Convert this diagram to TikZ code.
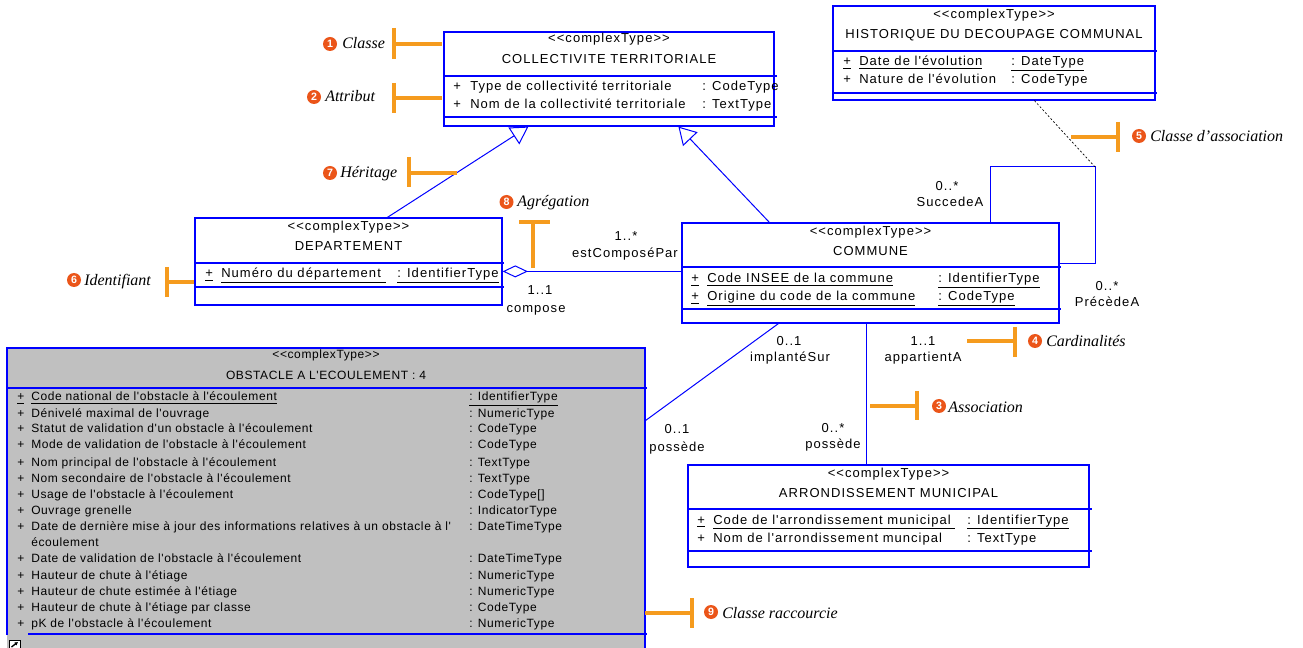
\documentclass[tikz,border=0pt]{standalone}
\usepackage{fontspec}
\newfontfamily\umlfont{Liberation Sans}[LetterSpace=8,Ligatures=TeXOff]
\newfontfamily\obsfont{Liberation Sans}[LetterSpace=5,Ligatures=TeXOff]
\newfontfamily\numfont{Liberation Sans}
\newfontfamily\annfont{Liberation Serif}
\usetikzlibrary{arrows.meta,fit,calc}
\definecolor{umlblue}{RGB}{0,0,255}
\definecolor{annorange}{RGB}{245,155,30}
\definecolor{numred}{RGB}{235,85,25}
\definecolor{obsgray}{RGB}{192,192,192}
\tikzset{
  umlbox/.style={draw=umlblue, line width=0.9pt, inner sep=0pt, fill=white},
  sepline/.style={draw=umlblue, line width=0.9pt},
  umltxt/.style={font=\umlfont\fontsize{9.75pt}{12pt}\selectfont, inner sep=0pt, anchor=base},
  umlw/.style={umltxt, anchor=base west},
  obstxt/.style={font=\obsfont\fontsize{9pt}{11pt}\selectfont, inner sep=0pt, anchor=base west},
  assoc/.style={draw=umlblue, line width=0.75pt},
  inherit/.style={assoc, -{Triangle[open, length=13pt, width=15pt]}},
  aggreg/.style={assoc, {Diamond[open, length=19pt, width=9pt]}-},
  assocclass/.style={draw=black, line width=0.5pt, dash pattern=on 1.5pt off 1.5pt},
  annline/.style={draw=annorange, line width=2.3pt},
  numcirc/.style={circle, fill=numred, text=white, inner sep=0pt, minimum size=10.5pt,
     font=\numfont\bfseries\fontsize{8pt}{8pt}\selectfont},
  anntxt/.style={font=\annfont\itshape\fontsize{12pt}{14pt}\selectfont, inner sep=0pt, anchor=base west},
}
\begin{document}
\begin{tikzpicture}[x=0.75pt,y=-0.75pt]
\useasboundingbox (0,0) rectangle (1303,648);
\fill[white] (0,0) rectangle (1303,648);

% ---------- COLLECTIVITE TERRITORIALE
\node[umlbox, fit={(444,32) (774,126)}] (coll) {};
\draw[sepline] (444,76) -- (777,76);
\draw[sepline] (444,117) -- (777,117);
\node[umltxt] (collst) at (609,43) {<<complexType>>};
\node[umltxt] (collti) at (609,64) {COLLECTIVITE TERRITORIALE};
\node[umlw] (collp1) at (453,91) {+};
\node[umlw] (colla1) at (470,91) {Type de collectivité territoriale};
\node[umlw] (collt1) at (702,91) {: CodeType};
\node[umlw] (collp2) at (453,109) {+};
\node[umlw] (colla2) at (470,109) {Nom de la collectivité territoriale};
\node[umlw] (collt2) at (702,109) {: TextType};

% ---------- HISTORIQUE
\node[umlbox, fit={(833,6) (1155,100)}] (hist) {};
\draw[sepline] (833,51) -- (1157,51);
\draw[sepline] (833,93) -- (1157,93);
\node[umltxt] (histst) at (994,19) {<<complexType>>};
\node[umltxt] (histti) at (994,39) {HISTORIQUE DU DECOUPAGE COMMUNAL};
\node[umlw] (histp1) at (843,66) {\underline{+}};
\node[umlw] (hista1) at (859,66) {\underline{Date de l'évolution}};
\node[umlw] (histt1) at (1011,66) {\underline{: DateType}};
\node[umlw] (histp2) at (843,84) {+};
\node[umlw] (hista2) at (859,84) {Nature de l'évolution};
\node[umlw] (histt2) at (1011,84) {: CodeType};

% ---------- DEPARTEMENT
\node[umlbox, fit={(195,218) (502,305)}] (dep) {};
\draw[sepline] (195,263) -- (504,263);
\draw[sepline] (195,287) -- (504,287);
\node[umltxt] (depst) at (348.5,231) {<<complexType>>};
\node[umltxt] (depti) at (348.5,251) {DEPARTEMENT};
\node[umlw] (depp1) at (205,278) {\underline{+}};
\node[umlw] (depa1) at (221,278) {\underline{Numéro du département }};
\node[umlw] (dept1) at (397,278) {\underline{: IdentifierType}};

% ---------- COMMUNE
\node[umlbox, fit={(682,223) (1059,323)}] (commune) {};
\draw[sepline] (682,267) -- (1061,267);
\draw[sepline] (682,309) -- (1061,309);
\node[umltxt] (comst) at (870.5,236) {<<complexType>>};
\node[umltxt] (comti) at (870.5,256) {COMMUNE};
\node[umlw] (comp1) at (691,283) {\underline{+}};
\node[umlw] (coma1) at (707,283) {\underline{Code INSEE de la commune}};
\node[umlw] (comt1) at (938,283) {\underline{: IdentifierType}};
\node[umlw] (comp2) at (691,301) {\underline{+}};
\node[umlw] (coma2) at (707,301) {\underline{Origine du code de la commune}};
\node[umlw] (comt2) at (938,301) {\underline{: CodeType}};

% ---------- ARRONDISSEMENT MUNICIPAL
\node[umlbox, fit={(688,465) (1089,567)}] (arr) {};
\draw[sepline] (688,509) -- (1092,509);
\draw[sepline] (688,551) -- (1092,551);
\node[umltxt] (arrst) at (888.5,477) {<<complexType>>};
\node[umltxt] (arrti) at (888.5,497) {ARRONDISSEMENT MUNICIPAL};
\node[umlw] (arrp1) at (697,524) {\underline{+}};
\node[umlw] (arra1) at (713,524) {\underline{Code de l'arrondissement municipal }};
\node[umlw] (arrt1) at (967,524) {\underline{: IdentifierType}};
\node[umlw] (arrp2) at (697,542) {+};
\node[umlw] (arra2) at (713,542) {Nom de l'arrondissement muncipal};
\node[umlw] (arrt2) at (967,542) {: TextType};

% ---------- OBSTACLE A L'ECOULEMENT
\node[fill=obsgray, inner sep=0pt, fit={(7,348) (645,660)}] (obs) {};
\draw[sepline] (7,635) -- (7,348) -- (645,348) -- (645,660);
\draw[sepline] (7,388) -- (647,388);
\draw[sepline] (28,634) -- (647,634);
\node[obstxt, anchor=base] (obsst) at (326,359) {<<complexType>>};
\node[obstxt, anchor=base] (obsti) at (326,380) {OBSTACLE A L'ECOULEMENT : 4};
\node[obstxt] (obsp0) at (17,401) {\underline{+}};
\node[obstxt] (obsn0) at (31,401) {\underline{Code national de l'obstacle à l'écoulement}};
\node[obstxt] (obst0) at (469,401) {\underline{: IdentifierType}};
\foreach \nm/\ty/\yy [count=\i] in {%
  Dénivelé maximal de l'ouvrage/: NumericType/417,
  Statut de validation d'un obstacle à l'écoulement/: CodeType/433,
  Mode de validation de l'obstacle à l'écoulement/: CodeType/449,
  Nom principal de l'obstacle à l'écoulement/: TextType/466,
  Nom secondaire de l'obstacle à l'écoulement/: TextType/482,
  Usage de l'obstacle à l'écoulement/: CodeType[]/498,
  Ouvrage grenelle/: IndicatorType/514,
  Date de dernière mise à jour des informations relatives à un obstacle à l'/: DateTimeType/530,
  Date de validation de l'obstacle à l'écoulement/: DateTimeType/562,
  Hauteur de chute à l'étiage/: NumericType/579,
  Hauteur de chute estimée à l'étiage/: NumericType/595,
  Hauteur de chute à l'étiage par classe/: CodeType/611,
  pK de l'obstacle à l'écoulement/: NumericType/627}{%
  \node[obstxt] (obsp\i) at (17,\yy) {+};
  \node[obstxt] (obsn\i) at (31,\yy) {\nm};
  \node[obstxt] (obst\i) at (469,\yy) {\ty};
}
\node[obstxt] (obscont) at (31,546) {écoulement};
% shortcut icon
\draw[black, line width=0.6pt, fill=white] (9,640) rectangle (20,652);
\draw[black, line width=1pt, -{Latex[length=2.5pt,width=3pt]}] (11.5,647) -- (18,642);

% ---------- connectors
\draw[inherit] ($(dep.north west)+(193,0)$) -- ($(coll.south west)+(85,0)$);
\draw[inherit] ($(commune.north west)+(88,0)$) -- ($(coll.south west)+(235,0)$);
\draw[aggreg] ($(dep.north east)+(0,54)$) -- ($(commune.north west)+(0,49)$);
\coordinate (lc) at (1095,167);
\draw[assoc] ($(commune.north west)+(309,0)$) |- (lc) |- ($(commune.north east)+(0,41)$);
\draw[assocclass] ($(hist.south west)+(202,0)$) -- (lc);
\draw[assoc] ($(commune.south west)+(97,0)$) -- ($(obs.north east)+(0,73)$);
\draw[assoc] ($(commune.south west)+(185,0)$) -- ($(arr.north west)+(179,0)$);

% ---------- role labels
\node[umltxt] (l1a) at (626,241) {1..*};
\node[umltxt] (l1b) at (625,258) {estComposéPar};
\node[umltxt] (l2a) at (540,295) {1..1};
\node[umltxt] (l2b) at (536,313) {compose};
\node[umltxt] (l3a) at (947,191) {0..*};
\node[umltxt] (l3b) at (950,207) {SuccedeA};
\node[umltxt] (l4a) at (1107,291) {0..*};
\node[umltxt] (l4b) at (1107,307) {PrécèdeA};
\node[umltxt] (l5a) at (789,346) {0..1};
\node[umltxt] (l5b) at (790,362) {implantéSur};
\node[umltxt] (l6a) at (923,346) {1..1};
\node[umltxt] (l6b) at (923,362) {appartientA};
\node[umltxt] (l7a) at (677,434) {0..1};
\node[umltxt] (l7b) at (677,451) {possède};
\node[umltxt] (l8a) at (833,433) {0..*};
\node[umltxt] (l8b) at (833,449) {possède};

% ---------- annotations
% 1 Classe
\draw[annline] (394,28) -- (394,59);
\draw[annline] (394,44) -- (442,44);
\node[numcirc] (n1) at (330,44) {1};
\node[anntxt] (t1) at (342,49) {Classe};
% 2 Attribut
\draw[annline] (394,83) -- (394,113);
\draw[annline] (394,98) -- (442,98);
\node[numcirc] (n2) at (314,97) {2};
\node[anntxt] (t2) at (325,102) {Attribut};
% 7 Heritage
\draw[annline] (409,157) -- (409,187);
\draw[annline] (409,173) -- (457,173);
\node[numcirc] (n7) at (330,173) {7};
\node[anntxt] (t7) at (340,178) {Héritage};
% 8 Agregation
\draw[annline] (519,222) -- (550,222);
\draw[annline] (533,222) -- (533,268);
\node[numcirc] (n8) at (506.5,202) {8};
\node[anntxt] (t8) at (517,207) {Agrégation};
% 6 Identifiant
\draw[annline] (167,267) -- (167,297);
\draw[annline] (167,282) -- (194,282);
\node[numcirc] (n6) at (74,280) {6};
\node[anntxt] (t6) at (84,286) {Identifiant};
% 5 Classe d'association
\draw[annline] (1071,137) -- (1118,137);
\draw[annline] (1118,122) -- (1118,152);
\node[numcirc] (n5) at (1139,136) {5};
\node[anntxt] (t5) at (1150,142) {Classe d’association};
% 4 Cardinalites
\draw[annline] (967,341) -- (1015,341);
\draw[annline] (1015,327) -- (1015,357);
\node[numcirc] (n4) at (1035,341) {4};
\node[anntxt] (t4) at (1046,347) {Cardinalités};
% 3 Association
\draw[annline] (870,406) -- (917,406);
\draw[annline] (917,391) -- (917,420);
\node[numcirc] (n3) at (939,406) {3};
\node[anntxt] (t3) at (948,412) {Association};
% 9 Classe raccourcie
\draw[annline] (645,613) -- (692,613);
\draw[annline] (692,598) -- (692,628);
\node[numcirc] (n9) at (711,612) {9};
\node[anntxt] (t9) at (722,618) {Classe raccourcie};
\end{tikzpicture}
\end{document}
